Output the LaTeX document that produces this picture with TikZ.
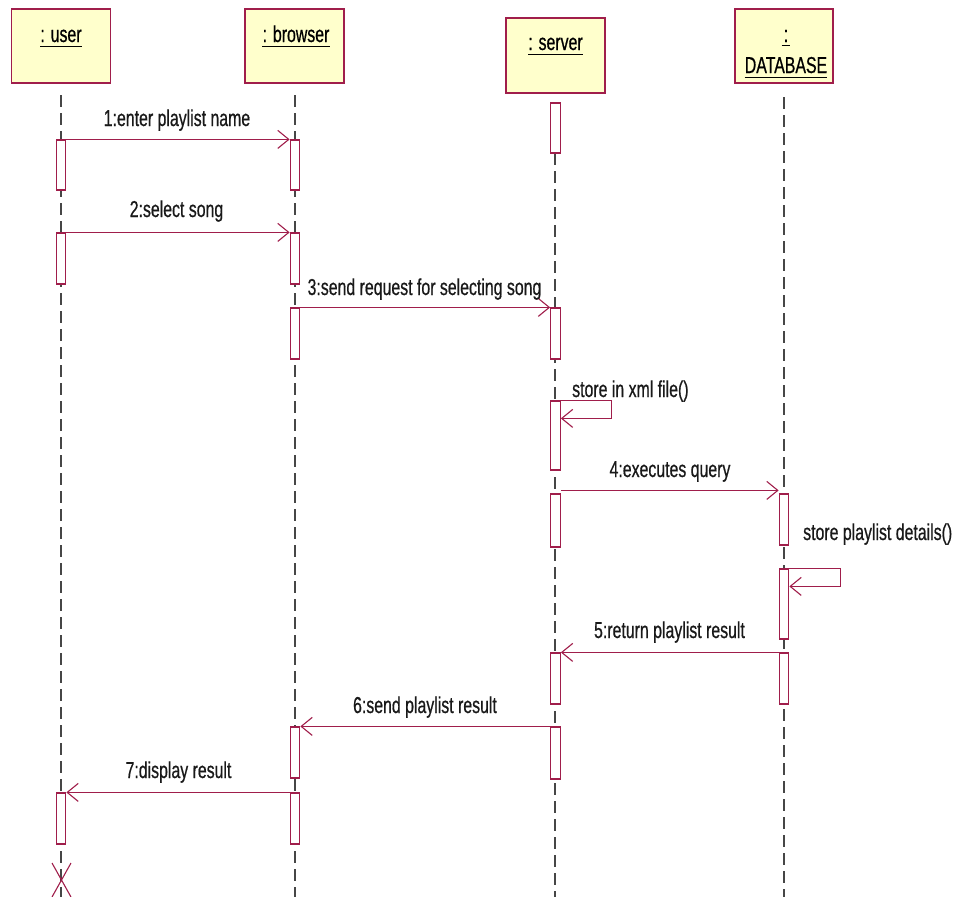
\documentclass[tikz,border=0pt]{standalone}
\usepackage{fontspec}
\setmainfont[FakeStretch=0.69,FakeBold=0.6]{Liberation Sans}
\usetikzlibrary{arrows.meta}
\definecolor{umlred}{RGB}{160,30,75}
\definecolor{umlfill}{RGB}{255,255,204}
\definecolor{lifegray}{RGB}{70,70,70}
\newcommand\actbox[4]{\node[act, minimum height=#4pt-#3pt] (#1) at (#2,{(#3+#4)/2}) {};}
\begin{document}
\begin{tikzpicture}[x=1pt,y=-1pt,
  font=\fontsize{23}{26}\selectfont,
  obj/.style={draw=umlred, fill=umlfill, line width=1.3pt, inner sep=0, minimum width=99pt, minimum height=74pt},
  hdr/.style={anchor=base, inner sep=0, text=black},
  uln/.style={line width=1.6pt, black},
  life/.style={draw=lifegray, line width=1.1pt, dash pattern=on 12pt off 6pt},
  act/.style={draw=umlred, fill=white, line width=1.2pt, inner sep=0, minimum width=9.5pt},
  msg/.style={draw=umlred, line width=1.1pt, -{Straight Barb[length=11pt,width=18pt,line width=1.1pt]}},
  lbl/.style={anchor=base, inner sep=0, text=black!90}]
\useasboundingbox (0,0) rectangle (962,897);

% object boxes
\node[obj] (U) at (61,46) {};
\node[obj] (B) at (294.5,46) {};
\node[obj, minimum height=75pt] (S) at (555.5,55.5) {};
\node[obj, minimum width=98pt] (D) at (784,46) {};

\node[hdr] (Ut) at (61,42) {: user};
\draw[uln] ([yshift=-4.5pt]Ut.base west) -- ([yshift=-4.5pt]Ut.base east);
\node[hdr] (Bt) at (296,42) {: browser};
\draw[uln] ([yshift=-4.5pt]Bt.base west) -- ([yshift=-4.5pt]Bt.base east);
\node[hdr] (St) at (555.5,50) {: server};
\draw[uln] ([yshift=-4.5pt]St.base west) -- ([yshift=-4.5pt]St.base east);
\node[hdr] (Dc) at (786,42) {:};
\draw[uln] ([yshift=-3.5pt,xshift=-2pt]Dc.base west) -- ([yshift=-3.5pt,xshift=2pt]Dc.base east);
\node[hdr] (Dt) at (786,73) {DATABASE};
\draw[uln] ([yshift=-4.5pt]Dt.base west) -- ([yshift=-4.5pt]Dt.base east);

% lifelines
\coordinate (Ua) at (61,95);  \coordinate (Ue) at (61,897);
\coordinate (Ba) at (295,95); \coordinate (Be) at (295,897);
\coordinate (Sa) at (555,153); \coordinate (Se) at (555,897);
\coordinate (Da) at (784,97); \coordinate (De) at (784,897);
\draw[life] (Ua) -- (Ue);
\draw[life] (Ba) -- (Be);
\draw[life] (Sa) -- (Se);
\draw[life] (Da) -- (De);

% destruction mark
\coordinate (X1) at (52,863); \coordinate (X2) at (71,897);
\coordinate (X3) at (71,863); \coordinate (X4) at (52,897);
\draw[umlred, line width=1.1pt] (X1) -- (X2) (X3) -- (X4);

% activations
\actbox{u1}{61}{140}{190}
\actbox{u2}{61}{233}{284}
\actbox{u3}{61}{793}{844}
\actbox{b1}{295}{140}{190}
\actbox{b2}{295}{233}{284}
\actbox{b3}{295}{308}{359}
\actbox{b4}{295}{727}{778}
\actbox{b5}{295}{793}{844}
\actbox{s0}{555.5}{103}{153}
\actbox{s1}{555.5}{308}{359}
\actbox{s2}{555.5}{401}{470}
\actbox{s3}{555.5}{494}{547}
\actbox{s4}{555.5}{653}{704}
\actbox{s5}{555.5}{727}{779}
\actbox{d1}{784}{494}{545}
\actbox{d2}{784}{569}{639}
\actbox{d3}{784}{653}{704}

% messages
\draw[msg] (u1.north east) -- (b1.north west);
\node[lbl] at (177,126) {1:enter playlist name};
\draw[msg] (u2.north east) -- (b2.north west);
\node[lbl] at (176.5,217) {2:select song};
\draw[msg] (b3.north east) -- (s1.north west);
\node[lbl] at (424.5,295) {3:send request for selecting song};
\draw[msg] (s2.north east) -- ++(51,0) -- ++(0,18) -- ([yshift=-18pt]s2.north east);
\node[lbl, anchor=base west] at (572,397) {store in xml file()};
\draw[msg] ([yshift=3pt]s3.north east) -- ([yshift=3pt]d1.north west);
\node[lbl] at (670,477) {4:executes query};
\node[lbl, anchor=base west] at (803,540) {store playlist details()};
\draw[msg] (d2.north east) -- ++(51,0) -- ++(0,18) -- ([yshift=-18pt]d2.north east);
\draw[msg] (d3.north west) -- (s4.north east);
\node[lbl] at (669.5,638) {5:return playlist result};
\draw[msg] (s5.north west) -- (b4.north east);
\node[lbl] at (425,713) {6:send playlist result};
\draw[msg] (b5.north west) -- (u3.north east);
\node[lbl] at (178.5,778) {7:display result};
\end{tikzpicture}
\end{document}
